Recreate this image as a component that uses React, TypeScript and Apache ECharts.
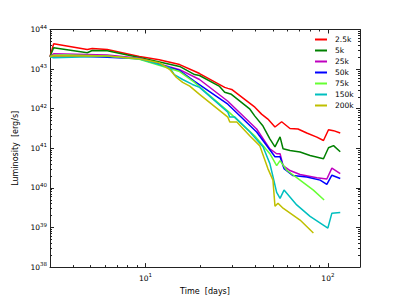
import React, { useEffect, useRef } from 'react';
import * as echarts from 'echarts';

const seriesNames = ['2.5k', '5k', '25k', '50k', '75k', '150k', '200k'];
const seriesColors = ['#ff0000', '#008000', '#bf00bf', '#0000ff', '#66ff33', '#00bfbf', '#bfbf00'];

const days2_5k = [3, 3.14, 4.8, 5.11, 6.18, 9.27, 11.9, 15.4, 18.6, 19.8, 27.2, 28.3, 29.7, 39.8, 43.3, 46.9, 51.3, 55.8, 62.0, 68.6, 76.6, 87.0, 94.6, 100.8, 107.4, 116.9];
const lum2_5k = [2.05e43, 4.34e43, 3.13e43, 3.31e43, 3.13e43, 2.09e43, 1.73e43, 1.30e43, 8.81e42, 7.72e42, 3.45e42, 3.26e42, 3.07e42, 1.09e42, 7.29e41, 5.46e41, 3.45e41, 4.68e41, 3.16e41, 3.07e41, 2.44e41, 1.91e41, 1.57e41, 2.95e41, 2.79e41, 2.44e41];

const days5k = [3, 3.14, 4.8, 5.11, 6.18, 9.27, 15.4, 18.6, 19.8, 25.5, 27.2, 29.6, 37.4, 39.8, 44.1, 48.1, 51.3, 54.7, 56.8, 62.0, 70.4, 79.9, 94.6, 100.8, 107.4, 116.9];
const lum5k = [2.05e43, 3.45e43, 2.59e43, 2.95e43, 2.90e43, 1.97e43, 1.17e43, 7.29e42, 6.88e42, 3.65e42, 2.59e42, 2.31e42, 9.71e41, 6.49e41, 3.65e41, 1.73e41, 1.09e41, 1.94e41, 9.71e40, 8.81e40, 8.04e40, 6.61e40, 5.46e40, 1.03e41, 1.17e41, 8.18e40];

const days25k = [3, 3.14, 6.18, 9.27, 15.4, 19.8, 28.3, 40.7, 48.1, 52.4, 54.7, 56.8, 62.0, 70.4, 87.0, 98.7, 105.2, 116.9];
const lum25k = [2.05e43, 2.44e43, 2.26e43, 1.88e43, 9.71e42, 5.46e42, 1.54e42, 3.07e41, 9.71e40, 7.29e40, 7.29e40, 3.65e40, 2.74e40, 2.18e40, 1.80e40, 1.68e40, 3.16e40, 2.30e40];

const days50k = [3, 3.14, 4.39, 6.18, 9.27, 15.4, 18.6, 28.3, 40.7, 51.3, 54.7, 57.5, 64.4, 76.6, 90.7, 98.7, 105.2, 116.9];
const lum50k = [2.05e43, 2.18e43, 2.11e43, 2.0e43, 1.83e43, 9.17e42, 4.87e42, 1.30e42, 2.59e41, 6.13e40, 6.13e40, 3.07e40, 2.05e40, 1.88e40, 1.57e40, 1.22e40, 2.09e40, 1.73e40];

const days75k = [3, 3.14, 3.72, 6.18, 9.27, 15.4, 18.6, 28.3, 39.8, 48.1, 52.4, 54.7, 59.5, 70.4, 83.3, 95.4];
const lum75k = [2.05e43, 2.24e43, 2.26e43, 2.14e43, 1.78e43, 8.66e42, 4.60e42, 8.66e41, 2.05e41, 7.29e40, 3.65e40, 4.87e40, 2.79e40, 1.57e40, 8.81e39, 4.95e39];

const days150k = [3, 3.14, 6.18, 9.27, 13.6, 14.4, 16.0, 18.1, 19.8, 28.3, 29.0, 30.9, 37.4, 44.1, 48.1, 50.0, 52.4, 54.7, 57.5, 67.5, 79.9, 100.0, 105.2, 116.9];
const lum150k = [2.05e43, 1.94e43, 2.11e43, 1.83e43, 1.09e43, 7.29e42, 5.46e42, 4.10e42, 3.45e42, 8.18e41, 6.13e41, 6.13e41, 2.59e41, 1.09e41, 4.10e40, 1.94e40, 7.72e39, 5.46e39, 8.81e39, 3.72e39, 1.91e39, 9.71e38, 2.30e39, 2.40e39];

const days200k = [3, 3.14, 6.18, 9.27, 11.9, 13.6, 14.8, 16.0, 17.5, 19.8, 28.3, 29.0, 31.7, 37.4, 42.4, 46.9, 50.0, 51.3, 53.3, 56.8, 70.4, 83.3];
const lum200k = [2.05e43, 2.18e43, 2.14e43, 1.83e43, 1.45e43, 9.71e42, 6.13e42, 4.60e42, 3.72e42, 2.31e42, 6.13e41, 4.60e41, 4.60e41, 2.05e41, 1.15e41, 3.07e40, 1.57e40, 3.45e39, 4.10e39, 3.07e39, 1.54e39, 7.29e38];

const allDays = [days2_5k, days5k, days25k, days50k, days75k, days150k, days200k];
const allLum = [lum2_5k, lum5k, lum25k, lum50k, lum75k, lum150k, lum200k];

const xMajorTicks = [10, 100];
const xMinorTicks = [3, 4, 5, 6, 7, 8, 9, 20, 30, 40, 50, 60, 70, 80, 90];
const yMajorTicks = [1e38, 1e39, 1e40, 1e41, 1e42, 1e43, 1e44];
const yMinorTicks: number[] = [];
for (let e = 38; e < 44; e++) {
  for (let m = 2; m <= 9; m++) yMinorTicks.push(m * Math.pow(10, e));
}

const FONT = 'DejaVu Sans';
const AXIS_COLOR = '#222';

const expLabel = (v: number) => `{b|10}{s|${Math.round(Math.log10(v))}}`;
const labelRich = {
  b: { fontSize: 7.5, fontFamily: FONT, color: '#000' },
  s: { fontSize: 5.5, fontFamily: FONT, color: '#000', padding: [0, 0, 6, 0] },
};

function makeX(position: 'top' | 'bottom', major: boolean, withLabel: boolean, withName: boolean) {
  return {
    type: 'log',
    position,
    min: 3,
    max: 150,
    name: withName ? 'Time  [days]' : '',
    nameLocation: 'middle',
    nameGap: 17,
    nameTextStyle: { fontSize: 8, fontFamily: FONT, color: '#000' },
    axisLine: { show: major, lineStyle: { color: AXIS_COLOR, width: 1 } },
    axisTick: {
      show: true,
      inside: true,
      length: major ? 4 : 2,
      customValues: major ? xMajorTicks : xMinorTicks,
      lineStyle: { color: AXIS_COLOR, width: 1 },
    },
    axisLabel: withLabel
      ? { show: true, customValues: xMajorTicks, formatter: expLabel, rich: labelRich, margin: 5 }
      : { show: false },
    splitLine: { show: false },
    minorTick: { show: false },
  };
}

function makeY(position: 'left' | 'right', major: boolean, withLabel: boolean, withName: boolean) {
  return {
    type: 'log',
    position,
    min: 1e38,
    max: 1e44,
    name: withName ? 'Luminosity  [erg/s]' : '',
    nameLocation: 'middle',
    nameGap: 25,
    nameTextStyle: { fontSize: 8, fontFamily: FONT, color: '#000' },
    axisLine: { show: major, lineStyle: { color: AXIS_COLOR, width: 1 } },
    axisTick: {
      show: true,
      inside: true,
      length: major ? 4 : 2,
      customValues: major ? yMajorTicks : yMinorTicks,
      lineStyle: { color: AXIS_COLOR, width: 1 },
    },
    axisLabel: withLabel
      ? { show: true, customValues: yMajorTicks, formatter: expLabel, rich: labelRich, margin: 3 }
      : { show: false },
    splitLine: { show: false },
    minorTick: { show: false },
  };
}

export default function App() {
  const ref = useRef<HTMLDivElement>(null);
  useEffect(() => {
    if (!ref.current) return;
    const chart = echarts.init(ref.current, null, { renderer: 'svg' });
    const series = seriesNames.map((name, i) => ({
      name,
      type: 'line',
      xAxisIndex: 0,
      yAxisIndex: 0,
      symbol: 'none',
      data: allDays[i].map((d, j) => [d, allLum[i][j]]),
      lineStyle: { color: seriesColors[i], width: 1.5 },
      itemStyle: { color: seriesColors[i] },
    }));
    chart.setOption({
      animation: false,
      backgroundColor: '#fff',
      grid: { left: 50, top: 29.5, width: 310, height: 240, containLabel: false },
      xAxis: [
        makeX('bottom', true, true, true),
        makeX('top', true, false, false),
        makeX('bottom', false, false, false),
        makeX('top', false, false, false),
      ],
      yAxis: [
        makeY('left', true, true, true),
        makeY('right', true, false, false),
        makeY('left', false, false, false),
        makeY('right', false, false, false),
      ],
      legend: {
        orient: 'vertical',
        left: 315,
        top: 35,
        icon: 'rect',
        itemWidth: 12,
        itemHeight: 2,
        itemGap: 2,
        padding: 0,
        textStyle: { fontSize: 7.5, lineHeight: 9, fontFamily: FONT, color: '#000', padding: [0, 0, 0, 3] },
        data: seriesNames,
      },
      series,
    });
    return () => chart.dispose();
  }, []);
  return <div ref={ref} style={{ position: 'fixed', left: 0, top: 0, width: 400, height: 300 }} />;
}
